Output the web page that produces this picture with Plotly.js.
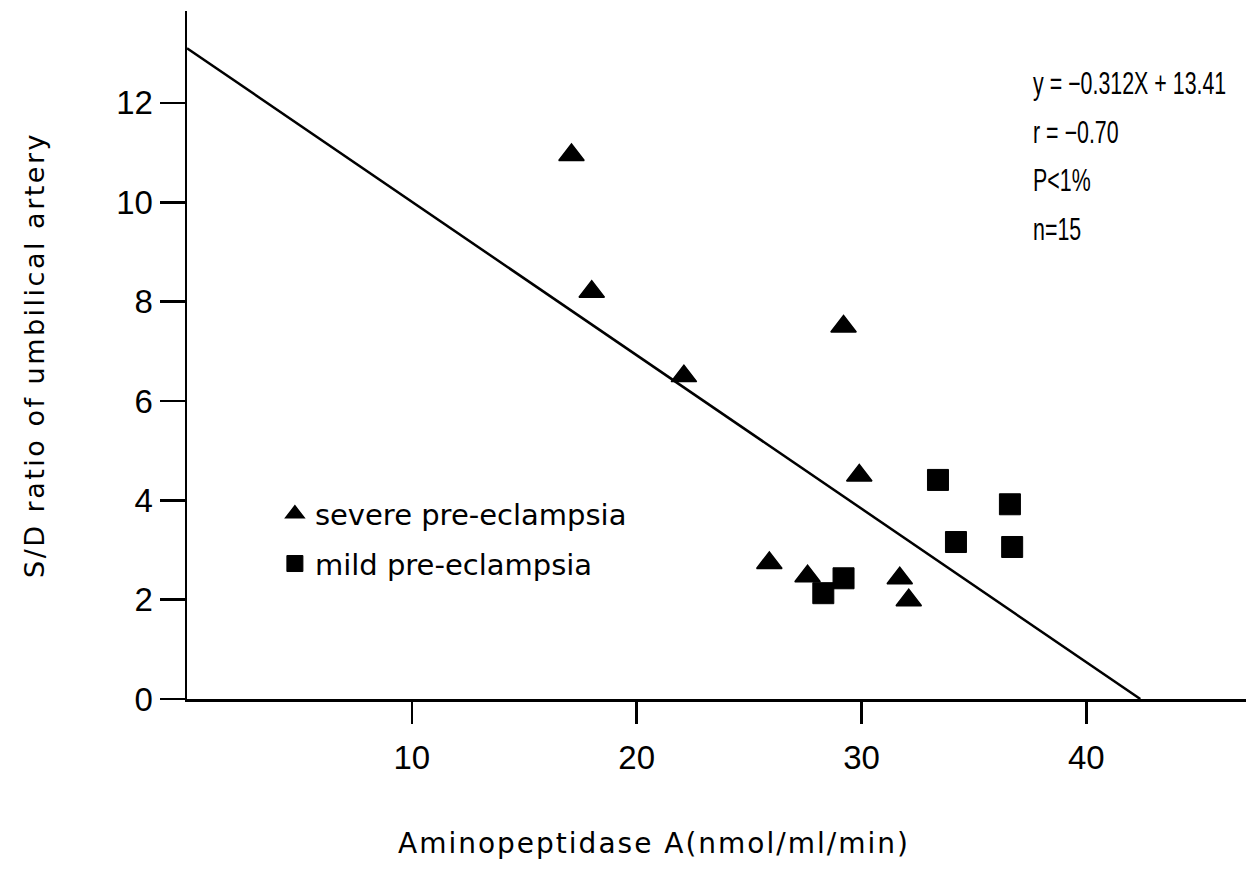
<!DOCTYPE html>
<html>
<head>
<meta charset="utf-8">
<script src="https://cdn.plot.ly/plotly-3.0.1.min.js"></script>
<style>
html,body{margin:0;padding:0;background:#fff;}
#chart{width:1257px;height:881px;}
#chart .ytitle{letter-spacing:2.5px;}
#chart g.annotation[data-index="4"] text{letter-spacing:2px;}
#chart g.annotation[data-index="0"] text,
#chart g.annotation[data-index="1"] text,
#chart g.annotation[data-index="2"] text,
#chart g.annotation[data-index="3"] text{transform-box:fill-box;transform-origin:left center;transform:scaleX(0.69);}
</style>
</head>
<body>
<div id="chart"></div>
<script>
// Severe pre-eclampsia (triangles)
const severeX = [17.1, 18.0, 22.1, 29.2, 29.9, 25.9, 27.6, 31.7, 32.1];
const severeY = [10.95, 8.2, 6.5, 7.5, 4.5, 2.74, 2.47, 2.43, 1.99];
// Mild pre-eclampsia (squares)
const mildX = [33.4, 36.6, 34.2, 36.7, 29.2, 28.3];
const mildY = [4.41, 3.92, 3.16, 3.06, 2.43, 2.13];
// Regression line end points as drawn
const lineX = [0, 42.4];
const lineY = [13.1, 0];
// Tick labels
const xTicks = [10, 20, 30, 40];
const yTicks = [0, 2, 4, 6, 8, 10, 12];
// Statistics text
const statLines = ["y = −0.312X + 13.41", "r = −0.70", "P&lt;1%", "n=15"];
const statY = [0.895, 0.823, 0.754, 0.682];

const narrow = "Liberation Sans, Arial, sans-serif";
const plain = "DejaVu Sans, Verdana, sans-serif";

const traces = [
  {x: lineX, y: lineY, mode: "lines", line: {color: "#000", width: 2.5}, showlegend: false, hoverinfo: "skip"},
  {x: severeX, y: severeY, mode: "markers", name: "severe pre-eclampsia", legendgroup: "a",
   marker: {symbol: "triangle-up", size: 22, color: "#000", line: {color: "#000", width: 1.5}}},
  {x: mildX, y: mildY, mode: "markers", name: "mild pre-eclampsia", legendgroup: "b",
   marker: {symbol: "square", size: 21, color: "#000", line: {color: "#000", width: 1}}}
];

const annotations = statLines.map((t, i) => ({
  xref: "paper", yref: "paper", x: (1031 - 187) / 1059, y: statY[i], xanchor: "left", yanchor: "middle",
  text: t, showarrow: false, font: {family: narrow, size: 31, color: "#000"}
}));
annotations.push({
  xref: "paper", yref: "paper", x: (654 - 187) / 1059, y: (699 - 843) / 688,
  xanchor: "center", yanchor: "middle", showarrow: false,
  text: "Aminopeptidase A(nmol/ml/min)", font: {family: plain, size: 28, color: "#000"}
});

const layout = {
  width: 1257, height: 881,
  margin: {l: 187, r: 11, t: 11, b: 182},
  paper_bgcolor: "#fff", plot_bgcolor: "#fff",
  showlegend: true,
  legend: {x: 0.083, y: 0.306, xanchor: "left", yanchor: "top", bgcolor: "rgba(0,0,0,0)",
           font: {family: plain, size: 29, color: "#000"}, traceorder: "grouped", tracegroupgap: 9},
  xaxis: {range: [0, 47.1], showline: true, linewidth: 2.5, linecolor: "#000", showgrid: false, zeroline: false,
          tickmode: "array", tickvals: xTicks, ticktext: xTicks.map(String), ticks: "outside", ticklen: 22, tickwidth: 2.5,
          tickcolor: "#000", tickfont: {family: narrow, size: 33, color: "#000"}, ticklabelstandoff: 6, fixedrange: true},
  yaxis: {range: [0, 13.85], showline: true, linewidth: 2.5, linecolor: "#000", showgrid: false, zeroline: false,
          tickmode: "array", tickvals: yTicks, ticktext: yTicks.map(String), ticks: "outside", ticklen: 25, tickwidth: 2.5,
          tickcolor: "#000", tickfont: {family: narrow, size: 33, color: "#000"}, fixedrange: true,
          title: {text: "S/D ratio of umbilical artery", font: {family: plain, size: 27, color: "#000"}, standoff: 64}},
  annotations: annotations
};

Plotly.newPlot("chart", traces, layout, {staticPlot: true, displayModeBar: false});
</script>
</body>
</html>
